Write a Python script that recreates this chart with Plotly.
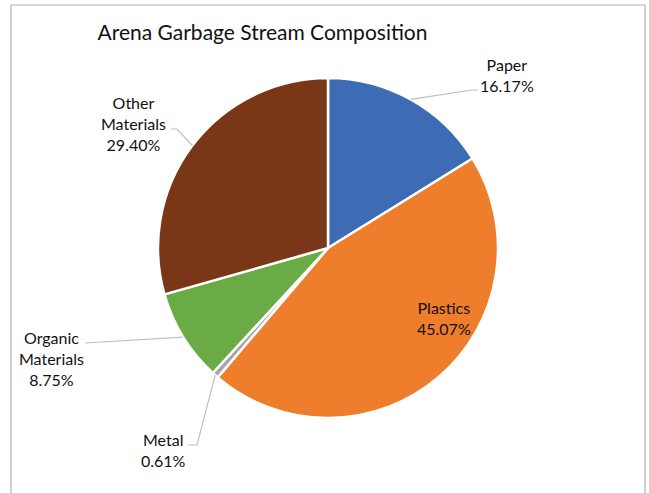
import math
import plotly.graph_objects as go

# Composition of the arena garbage stream (share of total, %)
categories = ["Paper", "Plastics", "Metal", "Organic Materials", "Other Materials"]
shares = [16.17, 45.07, 0.61, 8.75, 29.40]
label_text = ["Paper<br>16.17%", "Plastics<br>45.07%", "Metal<br>0.61%",
              "Organic<br>Materials<br>8.75%", "Other<br>Materials<br>29.40%"]
colors = ["#3D6CB5", "#EE7D2C", "#A5A5A5", "#6AAB45", "#7A3718"]

W, H = 649, 493
CX, CY, R = 328, 248, 170          # pie centre and radius in pixels
FONT = "Lato"

# label anchor (px) and leader-line path from label side toward the slice
label_pos = {
    "Paper": (507, 75),
    "Plastics": (444, 318),
    "Metal": (163.5, 450),
    "Organic Materials": (51.5, 358),
    "Other Materials": (133.5, 124),
}
leader_elbows = {
    "Paper": [(478, 90), (472, 90)],
    "Metal": [(188, 445), (197, 445)],
    "Organic Materials": [(85, 343)],
    "Other Materials": [(171, 129), (177, 129)],
}


def px(x, y):
    return x / W, 1 - y / H


fig = go.Figure(go.Pie(
    labels=categories,
    values=shares,
    sort=False,
    direction="clockwise",
    rotation=0,
    marker=dict(colors=colors, line=dict(color="white", width=2.5)),
    textinfo="none",
    hoverinfo="label+percent",
    showlegend=False,
    domain=dict(x=[(CX - R) / W, (CX + R) / W],
                y=[1 - (CY + R) / H, 1 - (CY - R) / H]),
))

total = sum(shares)
cum = 0.0
annotations = []
shapes = []
for name, val, txt in zip(categories, shares, label_text):
    mid = (cum + val / 2) / total * 2 * math.pi
    cum += val
    lx, ly = label_pos[name]
    ax, ay = px(lx, ly)
    annotations.append(dict(
        x=ax, y=ay, xref="paper", yref="paper", text=txt, showarrow=False,
        xanchor="center", yanchor="middle", align="center",
        font=dict(family=FONT, size=16, color="#111111"),
    ))
    if name in leader_elbows:
        ex, ey = CX + R * math.sin(mid), CY - R * math.cos(mid)
        pts = leader_elbows[name] + [(ex, ey)]
        path = "M " + " L ".join(f"{x / W:.5f},{1 - y / H:.5f}" for x, y in pts)
        shapes.append(dict(type="path", xref="paper", yref="paper", path=path,
                           line=dict(color="#BFBFBF", width=1.2)))

# chart frame
shapes.append(dict(type="rect", xref="paper", yref="paper",
                   x0=11 / W, x1=645 / W, y0=-0.05, y1=1 - 5 / H,
                   line=dict(color="#B4B4B4", width=1.2)))

fig.update_layout(
    width=W, height=H, autosize=False,
    margin=dict(l=0, r=0, t=0, b=0),
    paper_bgcolor="white", plot_bgcolor="white",
    title=dict(text="Arena Garbage Stream Composition",
               x=262.5 / W, y=1 - 33 / H, xanchor="center", yanchor="middle",
               font=dict(family=FONT, size=21, color="#111111")),
    annotations=annotations,
    shapes=shapes,
)

fig.write_html("out.html")
